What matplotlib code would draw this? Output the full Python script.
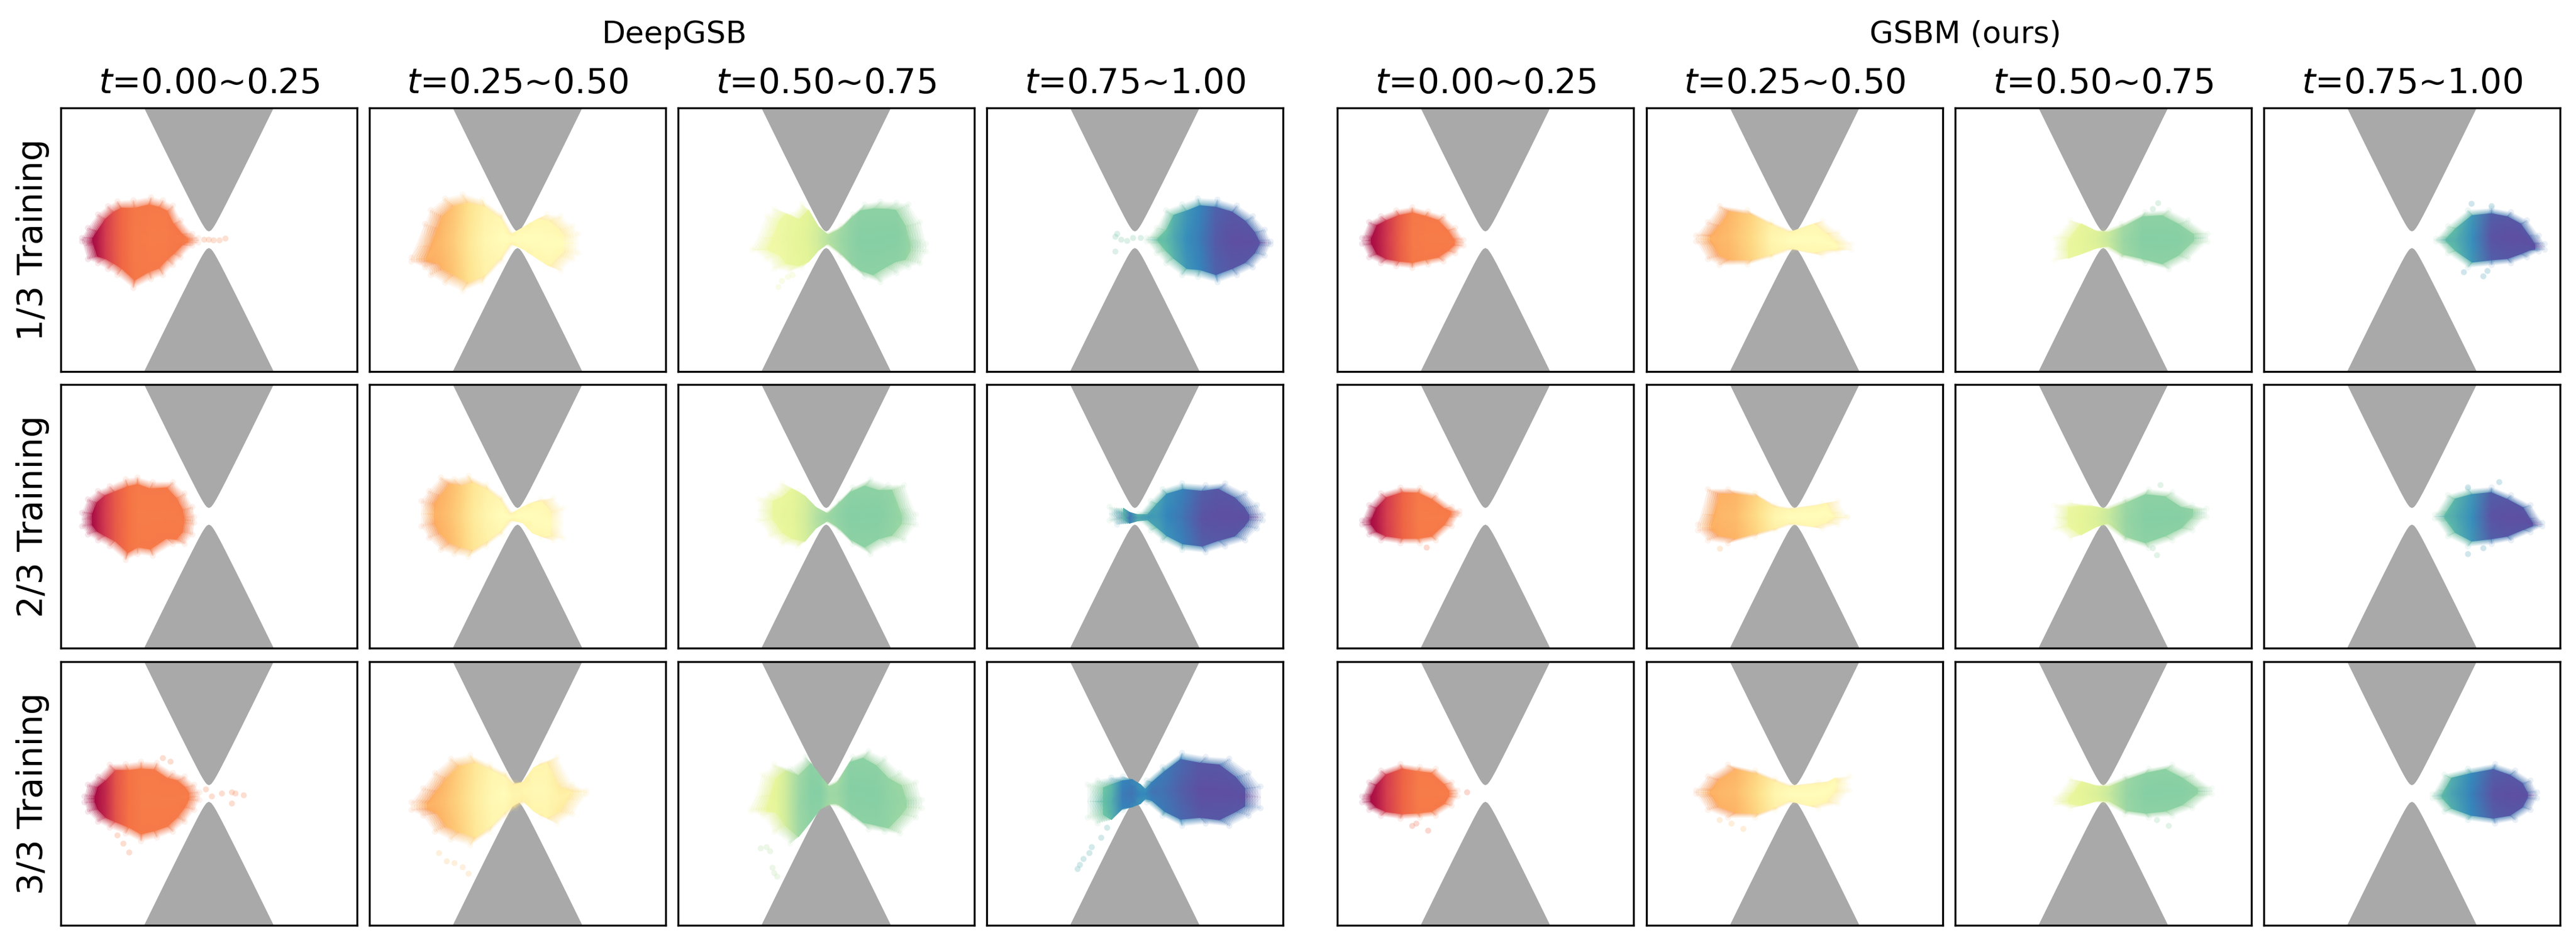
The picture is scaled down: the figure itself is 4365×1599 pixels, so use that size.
import numpy as np
import matplotlib
matplotlib.use("Agg")
import matplotlib.pyplot as plt

# obstacle outline, pixels from panel centre
neck_y = [14, 16, 20, 25, 30, 40, 60, 100, 150, 224]
neck_x = [0, 3.8, 7.0, 10.2, 13.1, 18.5, 28.8, 48.9, 73.7, 110]

col_titles = ['$t$=0.00~0.25', '$t$=0.25~0.50', '$t$=0.50~0.75', '$t$=0.75~1.00']
row_titles = ['1/3 Training', '2/3 Training', '3/3 Training']

# cloud envelopes: x column, lower/upper edge, Spectral position
# DeepGSB, 1/3
dg1_t0_x = [-215, -205, -188, -171, -155, -128, -98, -78, -61, -48, -28, -18]
dg1_t0_lo = [-3, -33, -40, -50, -60, -82, -67, -60, -43, -30, -10, -5]
dg1_t0_hi = [3, 20, 43, 57, 65, 67, 72, 67, 58, 33, 10, 3]
dg1_t0_c = [.02, .04, .1, .15, .19, .22, .225, .225, .225, .22, .22, .23]
dg1_t1_x = [-180, -157, -147, -123, -93, -60, -27, -7, 20, 50, 73, 93, 103]
dg1_t1_lo = [-37, -47, -60, -73, -87, -73, -37, -8, -20, -40, -53, -33, -23]
dg1_t1_hi = [-30, 27, 50, 70, 77, 68, 43, 10, 25, 43, 40, 23, 10]
dg1_t1_c = [.31, .32, .33, .36, .42, .47, .49, .49, .49, .49, .49, .49, .49]
dg1_t2_x = [-125, -101, -88, -61, -41, -21, -1, 25, 45, 65, 92, 119, 139, 159, 169]
dg1_t2_lo = [-18, -33, -50, -53, -47, -23, -8, -27, -47, -63, -72, -57, -47, -40, -20]
dg1_t2_hi = [-15, 40, 53, 43, 60, 27, 10, 23, 43, 60, 65, 63, 60, 30, -7]
dg1_t2_c = [.56, .57, .58, .6, .61, .64, .68, .72, .74, .75, .75, .75, .75, .74, .73]
dg1_t3_x = [20, 37, 53, 80, 107, 140, 173, 200, 220, 230]
dg1_t3_lo = [-3, -23, -40, -60, -63, -72, -60, -47, -27, -8]
dg1_t3_hi = [3, 20, 50, 60, 70, 68, 58, 40, 17, -3]
dg1_t3_c = [.8, .81, .84, .89, .92, .98, 1, 1, 1, 1]
# DeepGSB, 2/3
dg2_t0_x = [-215, -205, -188, -168, -141, -121, -95, -61, -41, -28, -25]
dg2_t0_lo = [-17, -31, -41, -51, -74, -64, -67, -47, -47, -31, -11]
dg2_t0_hi = [6, 29, 43, 51, 63, 66, 58, 58, 39, 16, -1]
dg2_t0_c = [.02, .05, .1, .16, .21, .225, .225, .225, .225, .225, .225]
dg2_t1_x = [-163, -150, -130, -107, -83, -53, -27, -7, 20, 40, 60, 77]
dg2_t1_lo = [-17, -37, -57, -64, -69, -51, -31, -7, -14, -34, -41, -37]
dg2_t1_hi = [26, 43, 66, 63, 69, 54, 33, 4, 19, 29, 31, 13]
dg2_t1_c = [.31, .32, .34, .38, .43, .47, .49, .49, .49, .49, .49, .49]
dg2_t2_x = [-115, -95, -75, -48, -25, -1, 22, 45, 75, 105, 132, 152]
dg2_t2_lo = [-7, -34, -47, -51, -24, -9, -24, -47, -64, -47, -41, -14]
dg2_t2_hi = [29, 39, 56, 43, 19, 6, 26, 49, 63, 53, 53, 3]
dg2_t2_c = [.58, .59, .6, .63, .68, .72, .74, .75, .75, .75, .74, .73]
dg2_t3_x = [-43, -30, -13, 7, 27, 47, 80, 120, 153, 187, 207, 217]
dg2_t3_lo = [-7, -14, -9, -7, -24, -41, -57, -61, -51, -41, -21, -7]
dg2_t3_hi = [16, 9, 4, 4, 26, 46, 56, 53, 56, 39, 19, 3]
dg2_t3_c = [.82, .93, .85, .87, .87, .9, .93, .99, 1, 1, 1, 1]
# DeepGSB, 3/3
dg3_t0_x = [-211, -205, -188, -168, -141, -115, -88, -61, -41, -25, -16]
dg3_t0_lo = [-15, -31, -48, -58, -68, -81, -75, -65, -48, -28, -11]
dg3_t0_hi = [-5, 15, 29, 49, 50, 54, 52, 35, 29, 15, 2]
dg3_t0_c = [.02, .03, .07, .15, .21, .225, .225, .225, .225, .225, .225]
dg3_t1_x = [-180, -160, -140, -113, -80, -47, -20, -3, 17, 40, 67, 93, 117]
dg3_t1_lo = [-28, -38, -65, -78, -88, -65, -38, -25, -15, -38, -51, -35, -1]
dg3_t1_hi = [-15, 9, 35, 59, 65, 49, 35, 19, 22, 52, 62, 15, 5]
dg3_t1_c = [.31, .32, .34, .38, .44, .48, .49, .47, .47, .48, .48, .46, .46]
dg3_t2_x = [-128, -108, -88, -61, -35, -15, 2, 19, 45, 72, 99, 125, 152, 162]
dg3_t2_lo = [-31, -38, -65, -85, -58, -31, -21, -21, -41, -61, -65, -68, -41, -25]
dg3_t2_hi = [-25, 32, 49, 42, 62, 35, 15, 22, 62, 72, 59, 35, 19, -11]
dg3_t2_c = [.58, .6, .64, .72, .75, .75, .72, .72, .75, .75, .75, .74, .73, .73]
dg3_t3_x = [-80, -63, -40, -20, -3, 7, 20, 47, 80, 120, 160, 193, 213]
dg3_t3_lo = [-41, -51, -31, -28, -21, -11, -15, -38, -55, -51, -55, -38, -25]
dg3_t3_hi = [15, 22, 27, 29, 19, 9, 22, 45, 69, 62, 59, 35, 12]
dg3_t3_c = [.8, .83, .92, .93, .9, .9, .93, .94, .97, 1, 1, 1, 1]
# GSBM, 1/3
gs1_t0_x = [-209, -197, -177, -151, -124, -97, -71, -51, -37]
gs1_t0_lo = [-7, -30, -40, -45, -48, -42, -37, -23, -10]
gs1_t0_hi = [3, 30, 40, 50, 55, 48, 40, 20, 0]
gs1_t0_c = [.02, .04, .09, .17, .22, .225, .225, .225, .225]
gs1_t1_x = [-167, -147, -127, -80, -40, -4, 47, 73, 96]
gs1_t1_lo = [-3, -33, -43, -42, -30, -17, -27, -20, -17]
gs1_t1_hi = [7, 30, 57, 50, 30, 15, 32, 13, -7]
gs1_t1_c = [.31, .32, .33, .39, .47, .49, .49, .49, .49]
gs1_t2_x = [-83, -56, -23, 0, 31, 71, 111, 144, 177]
gs1_t2_lo = [-35, -30, -17, -13, -30, -40, -50, -33, -3]
gs1_t2_hi = [3, 33, 17, 15, 27, 47, 50, 33, 10]
gs1_t2_c = [.58, .6, .62, .65, .72, .75, .75, .75, .74]
gs1_t3_x = [41, 61, 95, 135, 168, 195, 215, 225]
gs1_t3_lo = [-3, -23, -47, -43, -40, -30, -20, -17]
gs1_t3_hi = [2, 23, 50, 53, 47, 33, 7, -7]
gs1_t3_c = [.82, .83, .89, .99, 1, 1, 1, 1]
# GSBM, 2/3
gs2_t0_x = [-209, -197, -177, -144, -111, -84, -57, -44]
gs2_t0_lo = [-14, -31, -41, -46, -46, -41, -17, 3]
gs2_t0_hi = [-7, 19, 39, 49, 48, 36, 16, 9]
gs2_t0_c = [.02, .04, .1, .18, .225, .225, .225, .225]
gs2_t1_x = [-164, -147, -113, -67, -33, -4, 47, 73, 89]
gs2_t1_lo = [-24, -41, -46, -34, -24, -14, -21, -14, -2]
gs2_t1_hi = [-14, 46, 46, 39, 19, 14, 21, 26, -1]
gs2_t1_c = [.31, .32, .33, .4, .47, .49, .49, .49, .49]
gs2_t2_x = [-83, -56, -23, 0, 37, 77, 117, 151, 175]
gs2_t2_lo = [-21, -37, -21, -14, -41, -54, -41, -24, -1]
gs2_t2_hi = [19, 23, 19, 14, 29, 46, 41, 19, 13]
gs2_t2_c = [.58, .6, .62, .65, .73, .75, .75, .75, .74]
gs2_t3_x = [39, 61, 95, 135, 168, 201, 221]
gs2_t3_lo = [-4, -34, -51, -47, -41, -27, -17]
gs2_t3_hi = [3, 36, 46, 49, 36, 19, -11]
gs2_t3_c = [.82, .84, .89, .99, 1, 1, 1]
# GSBM, 3/3
gs3_t0_x = [-209, -197, -177, -144, -111, -84, -57, -47]
gs3_t0_lo = [-15, -28, -38, -43, -41, -38, -21, -5]
gs3_t0_hi = [-5, 19, 39, 50, 45, 42, 19, 5]
gs3_t0_c = [.02, .04, .1, .18, .225, .225, .225, .225]
gs3_t1_x = [-167, -147, -113, -67, -33, -4, 40, 73, 93]
gs3_t1_lo = [-1, -28, -41, -41, -28, -15, -25, -18, 5]
gs3_t1_hi = [5, 29, 49, 39, 25, 14, 19, 22, 29]
gs3_t1_c = [.31, .32, .33, .4, .47, .49, .49, .49, .49]
gs3_t2_x = [-83, -56, -23, 0, 37, 77, 117, 151, 184]
gs3_t2_lo = [-18, -25, -15, -15, -35, -41, -38, -25, -1]
gs3_t2_hi = [-8, 25, 15, 14, 29, 42, 49, 32, 9]
gs3_t2_c = [.58, .6, .62, .65, .73, .75, .75, .75, .74]
gs3_t3_x = [35, 55, 95, 141, 175, 201, 212]
gs3_t3_lo = [-8, -31, -45, -51, -45, -28, -8]
gs3_t3_hi = [-1, 32, 42, 50, 39, 22, 2]
gs3_t3_c = [.82, .85, .91, .99, 1, 1, 1]

# stray points outside the envelopes: x, y, Spectral position
strays = {
    'dg1_t0': ([-8, 0, 8, 18, 28], [0, 0, -1, -1, 2], .24),
    'dg1_t2': ([-81, -75, -65, -57], [-80, -70, -63, -60], .58),
    'dg1_t3': ([-33, -30, -33, -23, -13, -3, 10], [5, 10, -20, 0, -2, 3, 3], .78),
    'dg3_t0': ([-78, -65, -155, -145, -135, -5, 5, 22, 39, 45, 59, 39],
               [60, 54, -71, -85, -100, 7, -5, 0, 2, 0, -3, -17], .23),
    'dg3_t1': ([-133, -120, -107, -93, -83], [-101, -115, -118, -125, -136], .35),
    'dg3_t2': ([-111, -101, -95, -91, -88, -83], [-93, -91, -98, -126, -135, -141], .68),
    'dg3_t3': ([-47, -57, -73, -77, -87, -93, -97], [-58, -75, -91, -101, -111, -121, -128], .84),
    'gs1_t2': ([93, 84], [62, 52], .75),
    'gs1_t3': ([101, 135, 88, 121, 128], [61, 57, -55, -62, -53], .86),
    'gs2_t0': ([-100], [-52], .2),
    'gs2_t1': ([-127], [-54], .32),
    'gs2_t2': ([84, 91, 97], [-54, -66, 53], .74),
    'gs2_t3': ([148, 95, 95, 121], [58, 49, -64, -54], .86),
    'gs3_t0': ([-117, -97, -124, -31], [-51, -63, -55, 2], .18),
    'gs3_t1': ([-87, -107, -127], [-60, -51, -45], .33),
    'gs3_t2': ([111, 91], [-55, -45], .74),
}

# layout in output pixels
W, H = 4365, 1599
col_left = [103, 626, 1149, 1672, 2266, 2790, 3313, 3836]
row_top = [183, 652, 1122]
ax_w, ax_h = 502, 447
fs = 14

# how far cloud edges lean back towards earlier colours
edge_shift = [.01, .06, .03, .07]
# soft rim made of many faint copies, solid core last
layer_f = [1.0, .97, .94, .91, .88, .85, .82]
layer_a = [.1, .12, .14, .16, .2, .3, 1.0]

plt.rcParams['mathtext.fontset'] = 'dejavusans'
fig = plt.figure(figsize=(W / 300, H / 300), dpi=300)


def draw_cloud(ax, name, t_idx):
    x = np.array(globals()[name + '_x'], float)
    lo = np.array(globals()[name + '_lo'], float)
    hi = np.array(globals()[name + '_hi'], float)
    c = np.array(globals()[name + '_c'], float)
    mid = (lo + hi) / 2
    x_mid = (x.min() + x.max()) / 2
    shift = edge_shift[t_idx]
    edge_c = np.clip(c - shift, 0, 1)
    for f, a in zip(layer_f, layer_a):
        xs = x_mid + f * (x - x_mid)
        half = f * (hi - lo) / 2
        X = np.column_stack([xs, xs, xs])
        Y = np.column_stack([mid - half, mid, mid + half])
        # solid core barely leans, only the rim does
        rim = c - .25 * shift if a == 1.0 else edge_c
        C = np.column_stack([rim, c, rim])
        ax.pcolormesh(X, Y, C, shading='gouraud', cmap='Spectral', vmin=0, vmax=1,
                      alpha=a, zorder=2, linewidth=0)
    # faint dots along the envelope
    ax.scatter(np.r_[x, x], np.r_[lo, hi], c=np.r_[edge_c, edge_c], cmap='Spectral',
               vmin=0, vmax=1, s=6, alpha=.1, linewidths=0, zorder=3)
    if name in strays:
        sx, sy, sc = strays[name]
        ax.scatter(sx, sy, c=[sc] * len(sx), cmap='Spectral', vmin=0, vmax=1,
                   s=6, alpha=.25, linewidths=0, zorder=3)


for r, top in enumerate(row_top):
    for k, left in enumerate(col_left):
        ax = fig.add_axes([left / W, 1 - (top + ax_h) / H, ax_w / W, ax_h / H])
        ax.set_xlim(-ax_w / 2, ax_w / 2)
        ax.set_ylim(-ax_h / 2, ax_h / 2)
        ax.set_xticks([])
        ax.set_yticks([])
        # gray obstacle, both funnels
        px = np.r_[-np.array(neck_x[::-1]), neck_x[1:]]
        py = np.r_[neck_y[::-1], neck_y[1:]]
        ax.fill(px, py, color='darkgray', lw=0, zorder=1)
        ax.fill(px, -py, color='darkgray', lw=0, zorder=1)

        group = 'dg' if k < 4 else 'gs'
        draw_cloud(ax, f'{group}{r + 1}_t{k % 4}', k % 4)

        if r == 0:
            ax.set_title(col_titles[k % 4], fontsize=fs, pad=6)
        if k == 0:
            ax.set_ylabel(row_titles[r], fontsize=fs, labelpad=4.5)

fig.text(1143 / W, 1 - 59 / H, 'DeepGSB', fontsize=12.5, ha='center', va='center')
fig.text(3330 / W, 1 - 59 / H, 'GSBM (ours)', fontsize=12.5, ha='center', va='center')

fig.savefig('out.png', dpi=300)
